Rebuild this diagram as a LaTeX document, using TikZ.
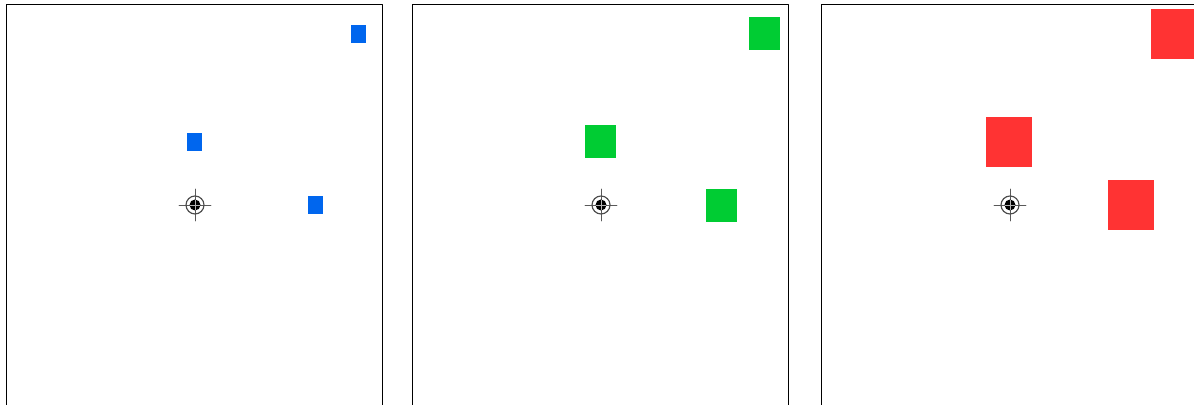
\documentclass[tikz,border=0pt]{standalone}
\usepackage{tikz}
\definecolor{dotblue}{HTML}{0066EE}
\definecolor{dotgreen}{HTML}{00CC33}
\definecolor{dotred}{HTML}{FF3333}

\begin{document}
\begin{tikzpicture}[x=0.03cm,y=-0.03cm,line cap=round,line join=round]
\useasboundingbox (0,0) rectangle (1194,405);
\clip (0,0) rectangle (1194,405);
\foreach \l/\w/\h/\c in {6/15/18/dotblue,412/31/33/dotgreen,821/46/50/dotred} {
  \draw[line width=0.8pt] (\l,420) -- (\l,4) -- (\l+376,4) -- (\l+376,420);
  \begin{scope}[shift={(\l+189,205)}]
    \foreach \dx/\dy in {-1/-63,120.5/0.5,163.5/-171}
      \fill[\c] (\dx-\w/2,\dy-\h/2) rectangle (\dx+\w/2,\dy+\h/2);
    % target mark
    \draw[gray!70!black,line width=0.5pt] (-16,0) -- (16,0) (0,-16) -- (0,16);
    \draw[gray!60!black,line width=1pt] (0,0) circle (9);
    \fill (0,0) circle (5.5);
    \draw[gray!60,line width=0.2pt] (-5,0) -- (5,0) (0,-5) -- (0,5);
  \end{scope}
}
\end{tikzpicture}
\end{document}
